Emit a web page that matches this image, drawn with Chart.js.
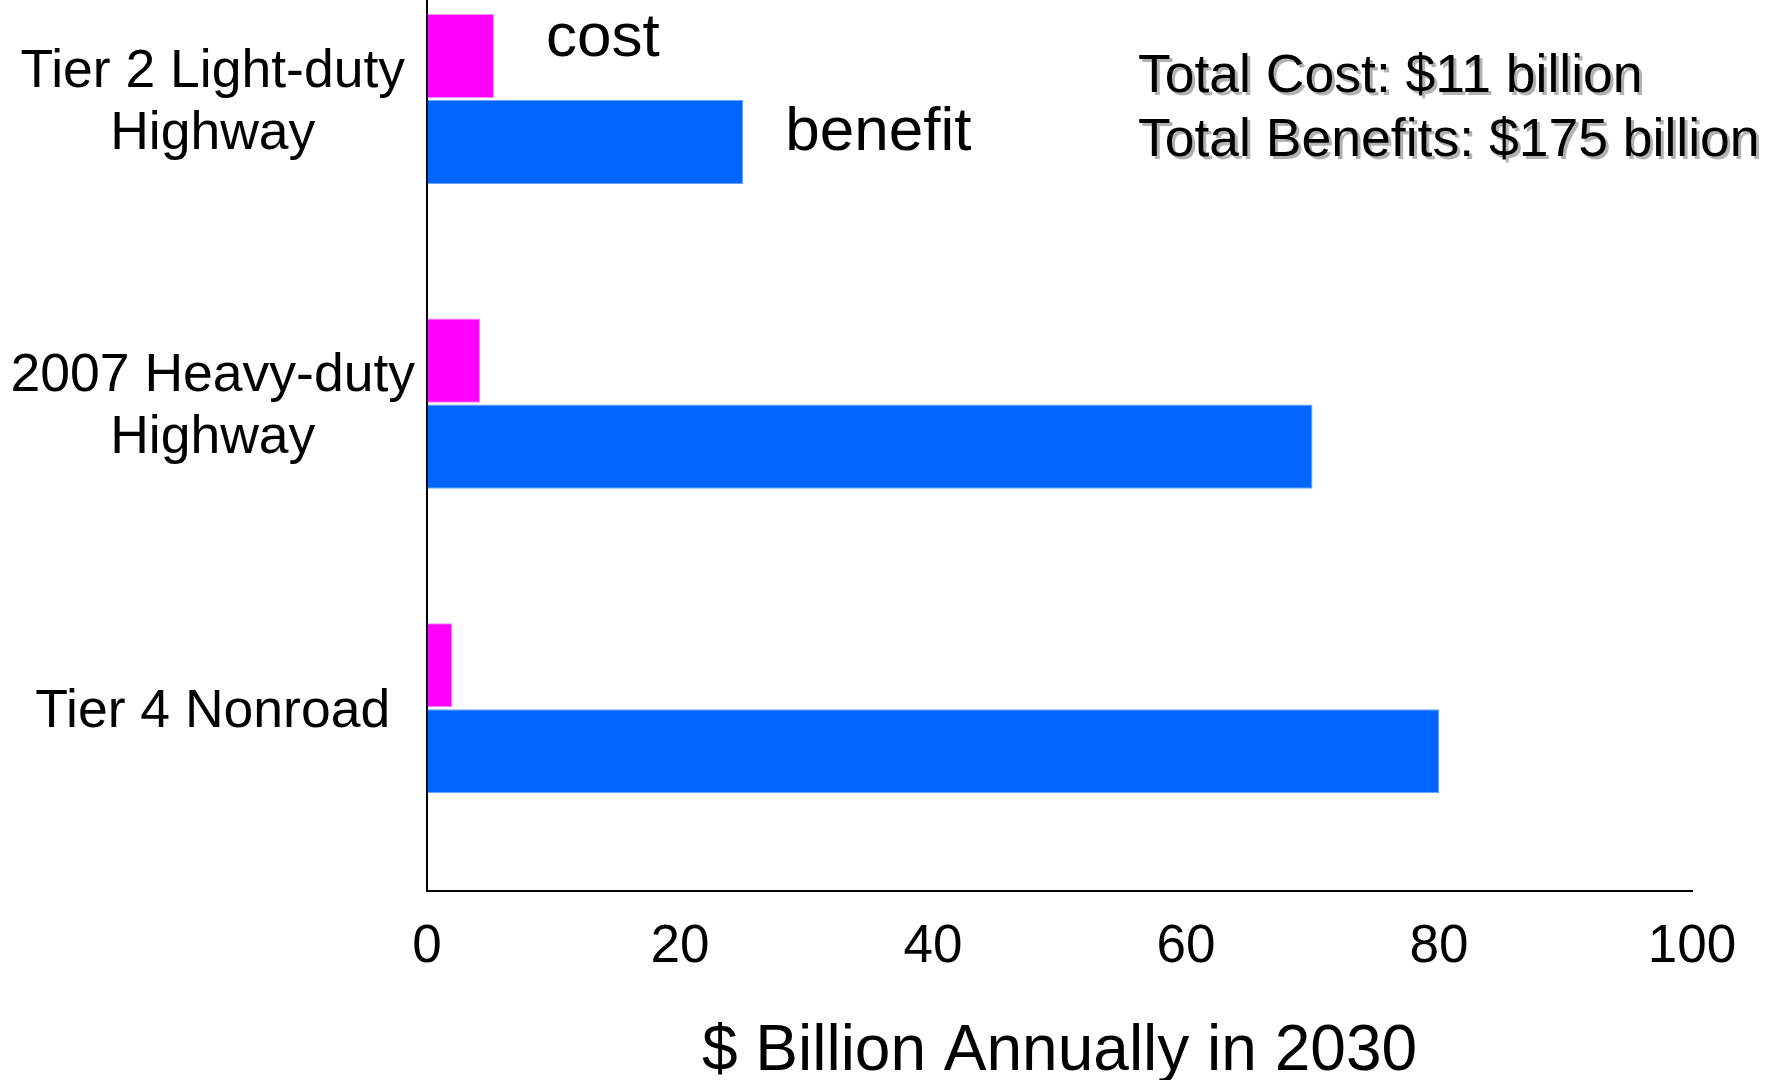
<!DOCTYPE html>
<html>
<head>
<meta charset="utf-8">
<script src="https://cdn.jsdelivr.net/npm/chart.js@4.4.0/dist/chart.umd.min.js"></script>
<style>
  html, body { margin: 0; padding: 0; background: #fff; }
  .wrap { width: 1776px; height: 1080px; position: relative; }
</style>
</head>
<body>
<div class="wrap"><canvas id="myChart"></canvas></div>
<script>
const categories = [['Tier 2 Light-duty', 'Highway'], ['2007 Heavy-duty', 'Highway'], 'Tier 4 Nonroad'];
const costValues = [5.3, 4.2, 2.0];
const benefitValues = [25, 70, 80];
const seriesNames = ['cost', 'benefit'];
const xTicks = [0, 20, 40, 60, 80, 100];
const xTitle = '$ Billion Annually in 2030';
const totalLines = ['Total Cost: $11 billion', 'Total Benefits: $175 billion'];

const FONT = '"Liberation Sans", Arial, sans-serif';
Chart.defaults.font.family = FONT;
Chart.defaults.color = '#000';

// series names next to the first pair of bars, totals in the top right
const textLabels = {
  id: 'textLabels',
  afterDraw(chart) {
    const ctx = chart.ctx;
    const costBar = chart.getDatasetMeta(0).data[0];
    const benefitBar = chart.getDatasetMeta(1).data[0];
    ctx.save();
    ctx.fillStyle = '#000';
    ctx.textBaseline = 'alphabetic';
    ctx.font = '62px ' + FONT;
    ctx.fillText(seriesNames[0], costBar.x + 52, costBar.y);
    ctx.fillText(seriesNames[1], benefitBar.x + 42, benefitBar.y + 8);

    ctx.font = '53.5px ' + FONT;
    ctx.shadowColor = 'rgba(0,0,0,0.3)';
    ctx.shadowOffsetX = 3;
    ctx.shadowOffsetY = 3;
    totalLines.forEach((t, i) => ctx.fillText(t, 1138, 92 + i * 64));
    ctx.restore();
  }
};

new Chart(document.getElementById('myChart'), {
  type: 'bar',
  data: {
    datasets: [{
      label: seriesNames[0],
      data: costValues.map((v, i) => ({ x: v, y: i })),
      backgroundColor: '#ff00ff',
      borderColor: '#ff88ff',
      borderWidth: 1
    }, {
      label: seriesNames[1],
      data: benefitValues.map((v, i) => ({ x: v, y: i })),
      backgroundColor: '#0066ff',
      borderColor: '#66a3ff',
      borderWidth: 1
    }]
  },
  options: {
    indexAxis: 'y',
    responsive: true,
    maintainAspectRatio: false,
    animation: false,
    categoryPercentage: 0.565,
    barPercentage: 0.977,
    layout: {
      padding: { top: 0, left: 0, right: 84, bottom: 0 }
    },
    plugins: {
      legend: { display: false },
      tooltip: { enabled: false }
    },
    scales: {
      y: {
        type: 'linear',
        reverse: true,
        offset: false,
        min: -0.325,
        max: 2.6,
        afterBuildTicks(scale) {
          scale.ticks = categories.map((c, i) => ({ value: i }));
        },
        afterFit(scale) {
          scale.width = 427;
          scale.paddingTop = 0;
          scale.paddingBottom = 0;
        },
        grid: { offset: false, drawOnChartArea: false, drawTicks: false },
        border: { color: '#000', width: 2 },
        ticks: {
          autoSkip: false,
          crossAlign: 'center',
          padding: 12,
          labelOffset: 4,
          font: { size: 53.5, lineHeight: 1.16 },
          callback: (value) => categories[value]
        }
      },
      x: {
        min: 0,
        max: 100,
        afterBuildTicks(scale) {
          scale.ticks = xTicks.map(v => ({ value: v }));
        },
        afterFit(scale) {
          scale.height = 189;
          scale.paddingLeft = 0;
          scale.paddingRight = 0;
        },
        grid: { drawOnChartArea: false, drawTicks: false },
        border: { color: '#000', width: 2 },
        ticks: {
          padding: 25,
          font: { size: 53 }
        },
        title: {
          display: true,
          text: xTitle,
          padding: 0,
          font: { size: 64, lineHeight: 0.85 }
        }
      }
    }
  },
  plugins: [textLabels]
});
</script>
</body>
</html>
